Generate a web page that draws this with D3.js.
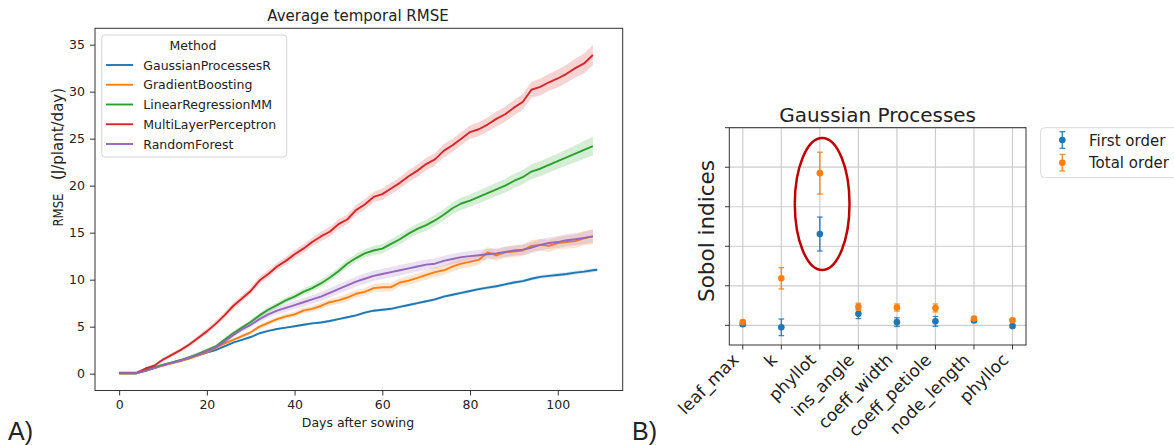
<!DOCTYPE html>
<html><head><meta charset="utf-8">
<script src="https://cdn.jsdelivr.net/npm/d3@7"></script>
<style>
body{margin:0;background:#fff}
svg{display:block}
text{font-family:"DejaVu Sans",sans-serif;fill:#222}
</style>
</head><body>
<svg id="c" width="1174" height="445"></svg>
<script>
// ---------- Panel A data ----------
const days = [0,2,4,6,8,10,12,14,16,18,20,22,24,26,28,30,32,34,36,38,40,42,44,46,48,50,52,54,56,58,60,62,64,66,68,70,72,74,76,78,80,82,84,86,88,90,92,94,96,98,100,102,104,106,108];
const gpDays = [0,2,4,6,8,10,12,14,16,18,20,22,24,26,28,30,32,34,36,38,40,42,44,46,48,50,52,54,56,58,60,62,64,66,68,70,72,74,76,78,80,82,84,86,88,90,92,94,96,98,100,102,104,106,108,109];
const methods = ["GaussianProcessesR","GradientBoosting","LinearRegressionMM","MultiLayerPerceptron","RandomForest"];
const methodColors = ["#1f77b4","#ff7f0e","#2ca02c","#d62728","#9467bd"];

const gpMean = [0.05,0.05,0.05,0.3,0.6,0.9,1.15,1.4,1.65,1.95,2.25, 2.5,2.9,3.3,3.6,3.9,4.3,4.55,4.75,4.9,5.05, 5.2,5.35,5.45,5.6,5.8,6.0,6.2,6.5,6.7,6.8, 6.9,7.1,7.3,7.5,7.7,7.9,8.2,8.4,8.6,8.8, 9.0,9.15,9.3,9.5,9.7,9.85,10.1,10.3,10.4,10.5, 10.6,10.75,10.85,11.0,11.05];
const gbMean = [0.05,0.05,0.05,0.3,0.6,0.85,1.1,1.35,1.6,1.95,2.3, 2.75,3.2,3.6,4.0,4.4,5.0,5.4,5.8,6.1,6.3, 6.7,6.9,7.2,7.6,7.8,8.1,8.5,8.7,9.1,9.2, 9.2,9.7,9.9,10.2,10.5,10.8,11.0,11.4,11.7,11.9, 12.1,12.9,12.6,12.9,13.0,13.1,13.6,13.7,13.6,13.9, 14.0,14.1,14.4,14.6];
const lrMean = [0.05,0.05,0.05,0.4,0.7,0.95,1.2,1.45,1.75,2.1,2.5, 2.9,3.6,4.3,4.9,5.5,6.2,6.8,7.3,7.8,8.2, 8.7,9.1,9.6,10.2,10.9,11.7,12.3,12.8,13.1,13.3, 13.8,14.3,14.9,15.4,15.8,16.3,16.9,17.6,18.1,18.4, 18.8,19.2,19.6,20.0,20.5,20.9,21.5,21.8,22.2,22.6, 23.0,23.4,23.8,24.2];
const mlpMean = [0.1,0.1,0.1,0.55,0.85,1.5,2.0,2.5,3.1,3.8,4.5, 5.3,6.2,7.2,8.0,8.8,9.9,10.6,11.4,12.0,12.7, 13.3,14.0,14.6,15.1,15.9,16.4,17.4,18.0,18.8,19.1, 19.7,20.3,21.0,21.6,22.3,22.8,23.7,24.3,25.0,25.7, 26.0,26.5,27.1,27.6,28.3,28.9,30.2,30.5,31.0,31.4, 31.9,32.5,33.0,33.9];
const rfMean = [0.05,0.05,0.05,0.3,0.6,0.9,1.15,1.4,1.7,2.0,2.4, 2.8,3.4,4.1,4.7,5.2,5.8,6.3,6.7,7.0,7.3, 7.6,7.9,8.2,8.6,9.0,9.4,9.8,10.1,10.4,10.6, 10.8,11.0,11.2,11.4,11.6,11.7,12.0,12.2,12.4,12.5, 12.6,12.7,12.8,12.95,13.1,13.2,13.4,13.7,13.9,14.0, 14.2,14.3,14.45,14.6];

// half-widths of the shaded bands
const gpBand = [0.02,0.02,0.02,0.03,0.04,0.05,0.05,0.06,0.06,0.07,0.07, 0.08,0.08,0.08,0.08,0.08,0.1,0.1,0.1,0.1,0.1, 0.12,0.12,0.12,0.12,0.12,0.14,0.14,0.14,0.14,0.14, 0.15,0.15,0.15,0.15,0.15,0.16,0.16,0.16,0.16,0.16, 0.18,0.18,0.18,0.18,0.18,0.18,0.18,0.2,0.2,0.2, 0.2,0.2,0.2,0.2,0.2];
const gbBand = [0.03,0.03,0.03,0.05,0.05,0.08,0.08,0.1,0.1,0.12,0.12, 0.15,0.15,0.18,0.2,0.2,0.22,0.25,0.25,0.28,0.3, 0.3,0.32,0.35,0.35,0.38,0.4,0.4,0.42,0.42,0.45, 0.45,0.45,0.48,0.48,0.5,0.5,0.5,0.52,0.52,0.55, 0.55,0.58,0.58,0.6,0.6,0.6,0.62,0.62,0.65,0.65, 0.7,0.7,0.75,0.8];
const lrBand = [0.03,0.03,0.03,0.05,0.08,0.1,0.1,0.12,0.12,0.15,0.15, 0.18,0.2,0.2,0.22,0.25,0.25,0.28,0.3,0.3,0.32, 0.35,0.35,0.38,0.4,0.4,0.42,0.45,0.45,0.48,0.5, 0.5,0.52,0.55,0.55,0.58,0.6,0.6,0.62,0.65,0.65, 0.68,0.7,0.7,0.72,0.75,0.75,0.78,0.8,0.8,0.82, 0.85,0.9,0.95,1.0];
const mlpBand = [0.05,0.05,0.05,0.1,0.15,0.2,0.2,0.2,0.25,0.25,0.3, 0.3,0.3,0.35,0.35,0.35,0.4,0.4,0.4,0.4,0.45, 0.45,0.45,0.5,0.5,0.5,0.5,0.55,0.55,0.55,0.6, 0.6,0.6,0.6,0.65,0.65,0.65,0.7,0.7,0.7,0.7, 0.75,0.75,0.8,0.8,0.8,0.85,0.85,0.9,0.9,0.95, 0.95,1.0,1.05,1.1];
const rfBand = [0.03,0.03,0.03,0.05,0.08,0.1,0.1,0.12,0.15,0.15,0.18, 0.2,0.22,0.25,0.28,0.3,0.32,0.35,0.38,0.4,0.42, 0.45,0.45,0.48,0.5,0.5,0.52,0.52,0.55,0.55,0.55, 0.55,0.55,0.55,0.55,0.55,0.55,0.55,0.55,0.55,0.55, 0.55,0.55,0.55,0.55,0.55,0.58,0.6,0.6,0.6,0.62, 0.65,0.65,0.68,0.7];

const xTicksA = [0,20,40,60,80,100];
const yTicksA = [0,5,10,15,20,25,30,35];

// ---------- Panel B data ----------
const params = ["leaf_max","k","phyllot","ins_angle","coeff_width","coeff_petiole","node_length","phylloc"];
const firstOrder = [0.003,-0.005,0.231,0.029,0.008,0.010,0.012,-0.002];
const firstErr   = [0.005,0.021,0.043,0.012,0.011,0.0125,0.004,0.004];
const totalOrder = [0.008,0.119,0.385,0.047,0.045,0.044,0.017,0.013];
const totalErr   = [0.004,0.027,0.053,0.009,0.009,0.010,0.004,0.003];
const yTicksB = [0,0.1,0.2,0.3,0.4,0.5];
const orderNames = ["First order","Total order"];
const orderColors = ["#1f77b4","#ff7f0e"];
// highlighted parameter (red ellipse), in data units
const highlightIndex = 2.06, highlightCenter = 0.307, highlightHalfW = 0.71, highlightHalfH = 0.167;

const svg = d3.select("#c");
svg.append("rect").attr("width",1174).attr("height",445).attr("fill","#fff");

// ================= Panel A =================
const xA = d3.scaleLinear().domain([-5.5,114.8]).range([95,622.7]);
const yA = d3.scaleLinear().domain([-1.79,36.74]).range([390.5,28.3]);
const gA = svg.append("g");

const series = [
  {name:methods[0], color:methodColors[0], x:gpDays, m:gpMean, b:gpBand},
  {name:methods[1], color:methodColors[1], x:days, m:gbMean, b:gbBand},
  {name:methods[2], color:methodColors[2], x:days, m:lrMean, b:lrBand},
  {name:methods[3], color:methodColors[3], x:days, m:mlpMean, b:mlpBand},
  {name:methods[4], color:methodColors[4], x:days, m:rfMean, b:rfBand}
];
series.forEach(s=>{
  const pts = s.x.map((d,i)=>({d, m:s.m[i], b:s.b[i]}));
  gA.append("path").datum(pts)
    .attr("d", d3.area().x(p=>xA(p.d)).y0(p=>yA(p.m-p.b)).y1(p=>yA(p.m+p.b)))
    .attr("fill", s.color).attr("opacity",0.2);
  gA.append("path").datum(pts)
    .attr("d", d3.line().x(p=>xA(p.d)).y(p=>yA(p.m)))
    .attr("fill","none").attr("stroke", s.color).attr("stroke-width",1.9)
    .attr("stroke-linejoin","round");
});

const axXA = gA.append("g").attr("transform","translate(0,390.5)")
  .call(d3.axisBottom(xA).tickValues(xTicksA).tickSize(5).tickPadding(5).tickFormat(d3.format("d")));
const axYA = gA.append("g").attr("transform","translate(95,0)")
  .call(d3.axisLeft(yA).tickValues(yTicksA).tickSize(5).tickPadding(5).tickFormat(d3.format("d")));
[axXA,axYA].forEach(a=>{
  a.select(".domain").remove();
  a.selectAll(".tick line").attr("stroke","#333").attr("stroke-width",1);
  a.selectAll(".tick text").attr("font-size",12.5).attr("fill","#222").style("font-family","DejaVu Sans");
});
gA.append("rect").attr("x",95).attr("y",28.3).attr("width",622.7-95).attr("height",390.5-28.3)
  .attr("fill","none").attr("stroke","#333").attr("stroke-width",1);

gA.append("text").attr("x",358).attr("y",20.5).attr("text-anchor","middle").attr("font-size",15)
  .text("Average temporal RMSE");
gA.append("text").attr("x",358).attr("y",427).attr("text-anchor","middle").attr("font-size",12.5)
  .text("Days after sowing");
gA.append("text").attr("transform","translate(63.3,210) rotate(-90)").attr("text-anchor","middle")
  .attr("font-size",13.5).attr("textLength",33).attr("lengthAdjust","spacingAndGlyphs").text("RMSE");
gA.append("text").attr("transform","translate(63,134) rotate(-90)").attr("text-anchor","middle")
  .attr("font-size",15).text("(J/plant/day)");

// legend A
const lgA = gA.append("g");
lgA.append("rect").attr("x",101.7).attr("y",35).attr("width",185).attr("height",122).attr("rx",3.5)
  .attr("fill","#fff").attr("fill-opacity",0.8).attr("stroke","#d4d4d4").attr("stroke-width",1);
lgA.append("text").attr("x",193).attr("y",50.2).attr("text-anchor","middle").attr("font-size",12.5).text("Method");
methods.forEach((m,i)=>{
  const y = 65 + i*19.75;
  lgA.append("line").attr("x1",106).attr("x2",133).attr("y1",y).attr("y2",y)
    .attr("stroke",methodColors[i]).attr("stroke-width",1.9);
  lgA.append("text").attr("x",143.3).attr("y",y+4.5).attr("font-size",12.5).text(m);
});

svg.append("text").attr("x",8).attr("y",440).attr("font-size",25)
  .style("font-family","Liberation Sans, Arial, sans-serif").attr("fill","#000").text("A)");

// ================= Panel B =================
const xB = d3.scaleLinear().domain([-0.35,7.35]).range([729.3,1026]);
const yB = d3.scaleLinear().domain([-0.0498,0.5]).range([345,127.7]);
const gB = svg.append("g");

// grid
gB.selectAll("line.vg").data(params).enter().append("line")
  .attr("x1",(d,i)=>xB(i)).attr("x2",(d,i)=>xB(i)).attr("y1",127.7).attr("y2",345)
  .attr("stroke","#cdcdcd").attr("stroke-width",1.2);
gB.selectAll("line.hg").data(yTicksB).enter().append("line")
  .attr("x1",729.3).attr("x2",1026).attr("y1",d=>yB(d)).attr("y2",d=>yB(d))
  .attr("stroke","#cdcdcd").attr("stroke-width",1.2);

// error bars + points
function errorbars(vals, errs, color){
  const g = gB.append("g");
  vals.forEach((v,i)=>{
    const x = xB(i), e = errs[i];
    g.append("line").attr("x1",x).attr("x2",x).attr("y1",yB(v-e)).attr("y2",yB(v+e))
      .attr("stroke",color).attr("stroke-width",1.5).attr("opacity",0.85);
    [v-e, v+e].forEach(c=>g.append("line").attr("x1",x-2.8).attr("x2",x+2.8)
      .attr("y1",yB(c)).attr("y2",yB(c)).attr("stroke",color).attr("stroke-width",1.3).attr("opacity",0.85));
    g.append("circle").attr("cx",x).attr("cy",yB(v)).attr("r",3.3).attr("fill",color);
  });
}
errorbars(firstOrder, firstErr, orderColors[0]);
errorbars(totalOrder, totalErr, orderColors[1]);

// frame
gB.append("rect").attr("x",729.3).attr("y",127.7).attr("width",1026-729.3).attr("height",345-127.7)
  .attr("fill","none").attr("stroke","#333").attr("stroke-width",1);
// ticks
gB.selectAll("line.yt").data(yTicksB).enter().append("line")
  .attr("x1",725).attr("x2",729.3).attr("y1",d=>yB(d)).attr("y2",d=>yB(d))
  .attr("stroke","#333").attr("stroke-width",1);
gB.selectAll("line.xt").data(params).enter().append("line")
  .attr("x1",(d,i)=>xB(i)).attr("x2",(d,i)=>xB(i)).attr("y1",345).attr("y2",349.5)
  .attr("stroke","#333").attr("stroke-width",1);
gB.selectAll("text.xl").data(params).enter().append("text")
  .attr("transform",(d,i)=>`translate(${xB(i)-3},361) rotate(-45)`)
  .attr("text-anchor","end").attr("font-size",17).text(d=>d);

// highlight ellipse
gB.append("ellipse").attr("cx",xB(highlightIndex)).attr("cy",yB(highlightCenter))
  .attr("rx",xB(highlightIndex+highlightHalfW)-xB(highlightIndex))
  .attr("ry",yB(highlightCenter-highlightHalfH)-yB(highlightCenter))
  .attr("fill","none").attr("stroke","#c00000").attr("stroke-width",2.5);

gB.append("text").attr("x",877.7).attr("y",121.7).attr("text-anchor","middle").attr("font-size",20)
  .text("Gaussian Processes");
gB.append("text").attr("transform","translate(714,231) rotate(-90)").attr("text-anchor","middle")
  .attr("font-size",21.5).text("Sobol indices");

// legend B
const lgB = gB.append("g");
lgB.append("rect").attr("x",1040.7).attr("y",127.7).attr("width",150).attr("height",50).attr("rx",4)
  .attr("fill","#fff").attr("stroke","#d9d9d9").attr("stroke-width",1);
orderNames.forEach((n,i)=>{
  const cy = 140 + i*22.7, x = 1062.3;
  lgB.append("line").attr("x1",x).attr("x2",x).attr("y1",cy-8.3).attr("y2",cy+8.3)
    .attr("stroke",orderColors[i]).attr("stroke-width",1.5).attr("opacity",0.85);
  [cy-8.3, cy+8.3].forEach(c=>lgB.append("line").attr("x1",x-2.8).attr("x2",x+2.8).attr("y1",c).attr("y2",c)
    .attr("stroke",orderColors[i]).attr("stroke-width",1.3).attr("opacity",0.85));
  lgB.append("circle").attr("cx",x).attr("cy",cy).attr("r",3.3).attr("fill",orderColors[i]);
  lgB.append("text").attr("x",1089).attr("y",cy+5.5).attr("font-size",15).text(n);
});

svg.append("text").attr("x",632).attr("y",440).attr("font-size",25)
  .style("font-family","Liberation Sans, Arial, sans-serif").attr("fill","#000").text("B)");
</script>
</body></html>
